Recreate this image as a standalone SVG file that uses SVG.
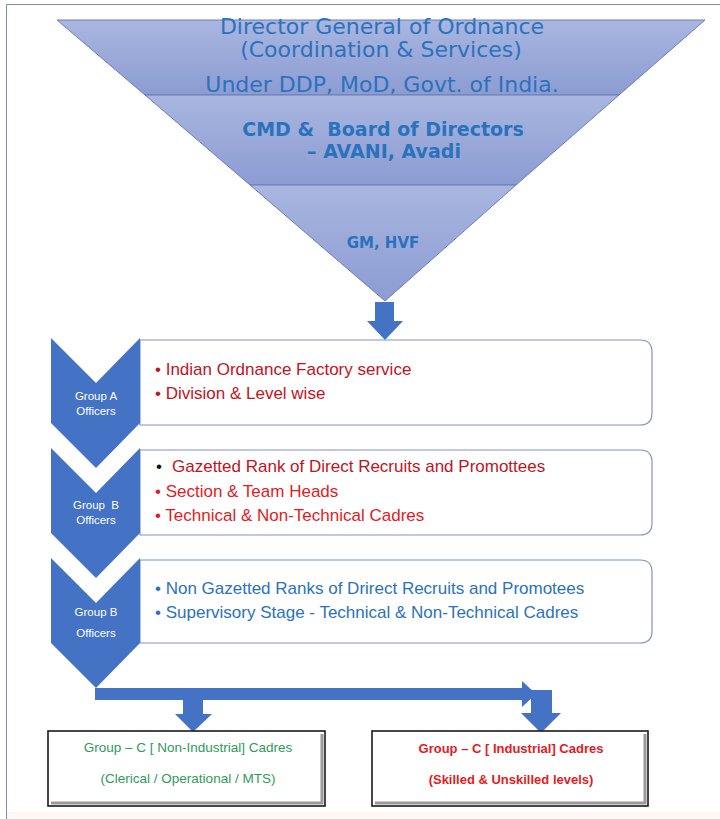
<svg xmlns="http://www.w3.org/2000/svg" width="720" height="819" viewBox="0 0 720 819">
<defs>
<linearGradient id="bandG" x1="0" y1="0" x2="0" y2="1">
<stop offset="0" stop-color="#a9b6e0"/>
<stop offset="1" stop-color="#8c9cd2"/>
</linearGradient>
</defs>
<style>
.top{font-family:"DejaVu Sans",Verdana,sans-serif;fill:#2a72bd;text-anchor:middle}
.topb{font-family:"DejaVu Sans",Verdana,sans-serif;fill:#2a72bd;text-anchor:middle;font-weight:bold}
.band{fill:url(#bandG);stroke:#6d7db5;stroke-width:1}
.chev{fill:#4472c4}
.chevt{font-family:"Liberation Sans",Arial,sans-serif;font-size:11.5px;fill:#ffffff;text-anchor:middle}
.box{fill:#ffffff;stroke:#8394c2;stroke-width:1.2}
.bt{font-family:"Liberation Sans",Arial,sans-serif;font-size:17px}
.dred{fill:#c0141e}
.red{fill:#e31b23}
.blue{fill:#2a72bd}
.arr{fill:#4472c4}
.cbox{fill:#ffffff;stroke:#1a1a1a;stroke-width:1.6}
.ct{font-family:"Liberation Sans",Arial,sans-serif;font-size:13.5px;text-anchor:middle}
.ctb{font-family:"Liberation Sans",Arial,sans-serif;font-size:13px;font-weight:bold;text-anchor:middle}
.green{fill:#2f9a5c}
</style>
<rect x="0" y="0" width="720" height="819" fill="#ffffff"/>
<rect x="6" y="812" width="714" height="7" fill="#fdf8f3"/>
<path d="M6.5 819 V4.5 H720" fill="none" stroke="#7d8ca8" stroke-width="1"/>

<g id="funnel">
<polygon class="band" points="57,20 705,20 619,95 145,95"/>
<polygon class="band" points="145,95 619,95 516,185 250,185"/>
<polygon class="band" points="250,185 516,185 385,301"/>
<text class="top" x="382" y="34" font-size="22">Director General of Ordnance</text>
<text class="top" x="381" y="57" font-size="22">(Coordination &amp; Services)</text>
<text class="top" x="382" y="92" font-size="22">Under DDP, MoD, Govt. of India.</text>
<text class="topb" x="383" y="136" font-size="19" xml:space="preserve">CMD &amp;  Board of Directors</text>
<text class="topb" x="384" y="158" font-size="19">– AVANI, Avadi</text>
<text class="topb" x="383" y="248" font-size="15">GM, HVF</text>
</g>

<g id="connectors">
<polygon class="arr" points="375,302 394,302 394,321 403,321 385,340 367,321 375,321"/>
<polygon class="arr" points="95,688 522,688 522,681 536,694 522,707 522,700 95,700"/>
<polygon class="arr" points="183,700 203,700 203,714 212,714 193,732 175,714 183,714"/>
<polygon class="arr" points="531,690 552,690 552,713 561,713 541,733 521,713 531,713"/>
</g>

<g id="groupA">
<path class="box" d="M140 340 H640 Q652 340 652 352 V413 Q652 425 640 425 H140 Z"/>
<polygon class="chev" points="51,338 96,383 140,338 140,423 96,468 51,423"/>
<text class="chevt" x="96" y="400">Group A</text>
<text class="chevt" x="96" y="415">Officers</text>
<text class="bt dred" x="155" y="375">• Indian Ordnance Factory service</text>
<text class="bt dred" x="155" y="399">• Division &amp; Level wise</text>
</g>

<g id="groupB1">
<path class="box" d="M140 450 H640 Q652 450 652 462 V523 Q652 535 640 535 H140 Z"/>
<polygon class="chev" points="51,448 96,493 140,448 140,533 96,578 51,533"/>
<text class="chevt" x="96" y="509" xml:space="preserve">Group  B</text>
<text class="chevt" x="96" y="524">Officers</text>
<text class="bt" x="156" y="472" fill="#111">•</text>
<text class="bt dred" x="172" y="472">Gazetted Rank of Direct Recruits and Promottees</text>
<text class="bt red" x="155" y="497">• Section &amp; Team Heads</text>
<text class="bt red" x="155" y="521">• Technical &amp; Non-Technical Cadres</text>
</g>

<g id="groupB2">
<path class="box" d="M140 560 H640 Q652 560 652 572 V631 Q652 643 640 643 H140 Z"/>
<polygon class="chev" points="51,558 96,603 140,558 140,643 96,688 51,643"/>
<text class="chevt" x="96" y="616">Group B</text>
<text class="chevt" x="96" y="637">Officers</text>
<text class="bt blue" x="155" y="594">• Non Gazetted Ranks of Drirect Recruits and Promotees</text>
<text class="bt blue" x="155" y="618">• Supervisory Stage - Technical &amp; Non-Technical Cadres</text>
</g>

<g id="groupC_nonind">
<rect class="cbox" x="48" y="731" width="277" height="75"/>
<path d="M51 803 H322 V734" fill="none" stroke="#9a9a9a" stroke-width="3"/>
<text class="ct green" x="188" y="752">Group – C [ Non-Industrial] Cadres</text>
<text class="ct green" x="188" y="783">(Clerical / Operational / MTS)</text>
</g>

<g id="groupC_ind">
<rect class="cbox" x="372" y="731" width="276" height="75"/>
<path d="M375 803 H645 V734" fill="none" stroke="#9a9a9a" stroke-width="3"/>
<text class="ctb red" x="511" y="753">Group – C [ Industrial] Cadres</text>
<text class="ctb red" x="511" y="784">(Skilled &amp; Unskilled levels)</text>
</g>
</svg>
